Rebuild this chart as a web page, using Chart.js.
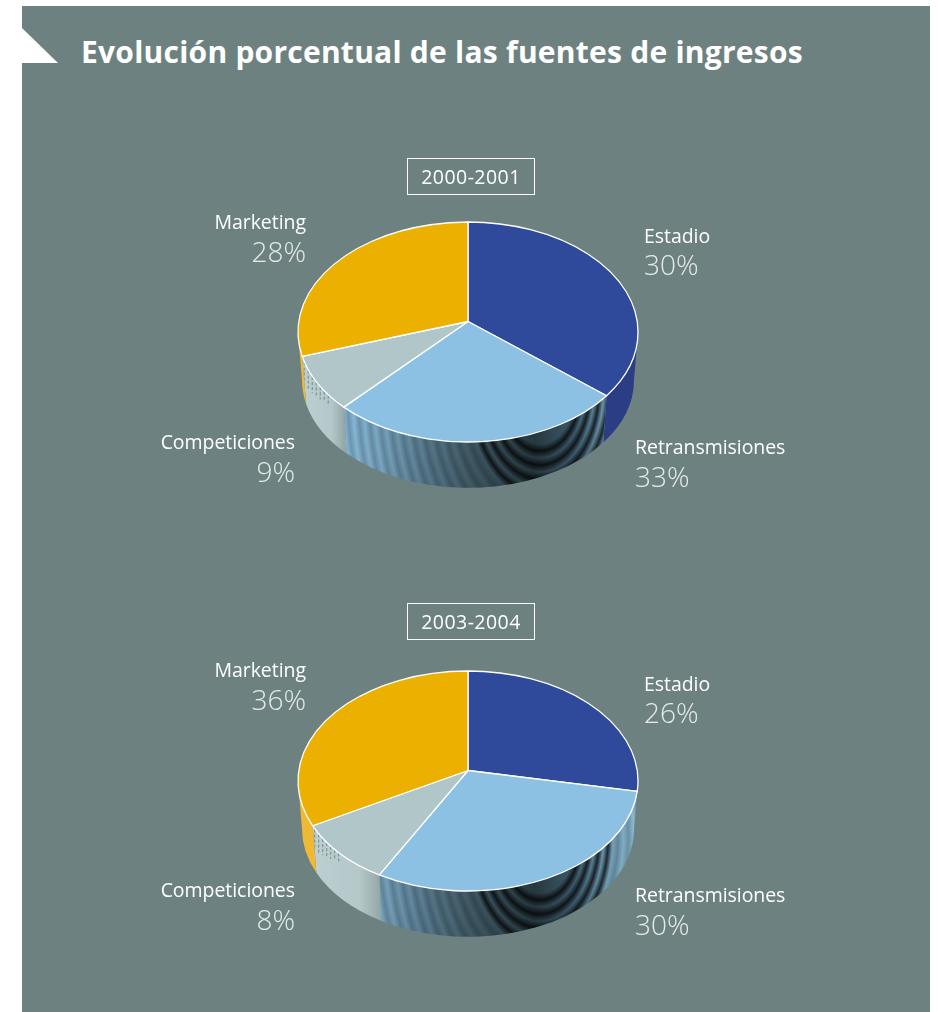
<!DOCTYPE html>
<html>
<head>
<meta charset="utf-8">
<title>Evolución porcentual de las fuentes de ingresos</title>
<script src="https://cdn.jsdelivr.net/npm/chart.js@4"></script>
<style>
  html, body { margin: 0; padding: 0; background: #fff; }
  #page { position: relative; width: 938px; height: 1012px; overflow: hidden; }
  #panel { position: absolute; left: 22px; top: 6px; width: 908px; height: 1006px; background: #6d8280; }
  #corner { position: absolute; left: 22px; top: 28px; width: 36px; height: 35px; background: #fff; clip-path: polygon(0 0, 100% 100%, 0 100%); }
  #title { position: absolute; left: 81px; top: 31px; font: 700 30px "Open Sans", sans-serif; letter-spacing: 0.24px; color: #fff; white-space: nowrap; }
  canvas { position: absolute; left: 22px; }
  .year { position: absolute; left: 407px; width: 126px; height: 35px; border: 1px solid #fff; text-align: center; font: 400 19.5px/35px "Open Sans", sans-serif; letter-spacing: 0.45px; color: #fff; }
  .name, .pct { position: absolute; white-space: nowrap; font-family: "Open Sans", sans-serif; }
  .name { font-size: 19.5px; font-weight: 400; color: #fff; line-height: 24px; letter-spacing: -0.05px; }
  .pct { font-size: 28px; font-weight: 300; color: #e4ebea; line-height: 34px; }
</style>
</head>
<body>
<div id="page">
  <div id="panel"></div>
  <div id="corner"></div>
  <div id="title">Evolución porcentual de las fuentes de ingresos</div>
  <canvas id="pie2001" width="892" height="400" style="top:131.5px"></canvas>
  <canvas id="pie2004" width="892" height="400" style="top:580.5px"></canvas>
</div>
<script>
var categories = ["Estadio", "Retransmisiones", "Competiciones", "Marketing"];
var seasons = ["2000-2001", "2003-2004"];

// percentages printed next to each slice
var printed2001 = [30, 33, 9, 28];
var printed2004 = [26, 30, 8, 36];

// slice sizes as they are drawn in the picture (the wedges do not follow the printed numbers)
var wedges2001 = [36, 26, 8, 30];
var wedges2004 = [28, 30, 9, 33];

var sliceColors = ["#2f4a9b", "#8cc1e3", "#b0c6c8", "#ebb000"];

var TILT = 110 / 170; // ellipse height / width
var DEPTH = 48;
var LOWER = 166 / 170; // lower rim is a bit smaller
var APEX = 10.5; // apex sits above the ellipse centre (perspective)

// true pie angle -> angle on the ellipse
function ellipseAngle(a) {
  return a - 0.0954 * Math.cos(a);
}

function wallPath(ctx, arc, a0, a1) {
  var r = arc.outerRadius;
  ctx.beginPath();
  ctx.ellipse(arc.x, arc.y, r, r * TILT, 0, a0, a1);
  ctx.ellipse(arc.x, arc.y + DEPTH, r * LOWER, r * TILT * 0.98, 0, a1, a0, true);
  ctx.closePath();
}

function retransWall(ctx, arc, a0, a1) {
  var cx = arc.x, cy = arc.y;
  var base = ctx.createLinearGradient(cx - 125, 0, cx + 165, 0);
  base.addColorStop(0, "#8abde0");
  base.addColorStop(0.13, "#79a6c2");
  base.addColorStop(0.3, "#55778a");
  base.addColorStop(0.43, "#425c68");
  base.addColorStop(0.66, "#26383f");
  base.addColorStop(0.8, "#3d5a6c");
  base.addColorStop(0.9, "#6d98b0");
  base.addColorStop(1, "#8ab8cf");
  wallPath(ctx, arc, a0, a1);
  ctx.fillStyle = base;
  ctx.fill();

  // moire rings of the original rendering, narrower than tall
  ctx.save();
  wallPath(ctx, arc, a0, a1);
  ctx.clip();
  var maxR = 320;
  ctx.save();
  ctx.translate(cx + 72, cy + 56);
  ctx.scale(0.65, 1);
  var rings = ctx.createRadialGradient(0, 0, 0, 0, 0, maxR);
  var d = 56;
  while (d < maxR - 16) {
    var step = d < 100 ? 14 : 16;
    var strength = d < 100 ? 0.75 : 0.2;
    rings.addColorStop(d / maxR, "rgba(0,0,0,0)");
    rings.addColorStop((d + step / 2) / maxR, "rgba(0,0,0," + strength + ")");
    rings.addColorStop((d + step) / maxR, "rgba(0,0,0,0)");
    d += step;
  }
  ctx.fillStyle = rings;
  ctx.fillRect(-maxR, -maxR, maxR * 2, maxR * 2);
  ctx.restore();

  // darker triangle at the left end of the wall
  var r = arc.outerRadius;
  var x0 = cx + r * Math.cos(a0), y0 = cy + r * TILT * Math.sin(a0);
  ctx.fillStyle = "rgba(60,90,110,0.4)";
  ctx.beginPath();
  ctx.moveTo(x0, y0);
  ctx.lineTo(x0 + 40, y0 + 20);
  ctx.lineTo(x0 + 4, y0 + 48);
  ctx.closePath();
  ctx.fill();
  ctx.restore();
}

function compWall(ctx, arc, a0, a1) {
  var r = arc.outerRadius;
  var xL = arc.x + r * Math.cos(a1), xR = arc.x + r * Math.cos(a0);
  var g = ctx.createLinearGradient(xL, 0, xR, 0);
  g.addColorStop(0, "#bcd0d1");
  g.addColorStop(0.7, "#b4c8c9");
  g.addColorStop(1, "#95aaa8");
  wallPath(ctx, arc, a0, a1);
  ctx.fillStyle = g;
  ctx.fill();

  // dashed moire near the top edge, left side
  ctx.save();
  wallPath(ctx, arc, a0, a1);
  ctx.clip();
  ctx.strokeStyle = "rgba(90,105,105,0.7)";
  ctx.lineWidth = 1;
  ctx.setLineDash([3, 2]);
  for (var x = xL + 2; x < xL + 28; x += 4) {
    var t = Math.acos((x - arc.x) / r);
    var y = arc.y + r * TILT * Math.sin(t);
    ctx.beginPath();
    ctx.moveTo(x, y + 1);
    ctx.lineTo(x, y + 22 - (x - xL) * 0.5);
    ctx.stroke();
  }
  ctx.restore();
}

var piePlugin = {
  id: "perspectivePie",
  beforeDatasetDraw: function (chart, args) {
    var ctx = chart.ctx;
    var arcs = chart.getDatasetMeta(args.index).data;
    var opts = chart.options.plugins.perspectivePie;

    ctx.save();
    // side wall, only the front half shows
    arcs.forEach(function (arc, i) {
      var a0 = Math.max(ellipseAngle(arc.startAngle), 0);
      var a1 = Math.min(ellipseAngle(arc.endAngle), Math.PI);
      if (a1 <= a0) return;
      if (i === 1) {
        retransWall(ctx, arc, a0, a1);
      } else if (i === 2) {
        compWall(ctx, arc, a0, a1);
      } else {
        wallPath(ctx, arc, a0, a1);
        ctx.fillStyle = i === 0 ? opts.stadiumWall : "#efb935";
        ctx.fill();
      }
    });

    // top face
    arcs.forEach(function (arc, i) {
      var r = arc.outerRadius;
      var apexY = arc.y - APEX;
      ctx.beginPath();
      ctx.moveTo(arc.x, apexY);
      ctx.ellipse(arc.x, arc.y, r, r * TILT, 0, ellipseAngle(arc.startAngle), ellipseAngle(arc.endAngle));
      ctx.closePath();
      ctx.fillStyle = sliceColors[i];
      ctx.fill();
      ctx.strokeStyle = "#fff";
      ctx.lineWidth = 1.3;
      ctx.lineJoin = "round";
      ctx.stroke();
    });
    ctx.restore();
    return false;
  }
};

function drawPie(canvasId, wedges, stadiumWall) {
  return new Chart(document.getElementById(canvasId), {
    type: "pie",
    data: {
      labels: categories,
      datasets: [{ data: wedges, backgroundColor: sliceColors, borderWidth: 0 }]
    },
    options: {
      responsive: false,
      animation: false,
      radius: 170,
      layout: { padding: 0 },
      plugins: {
        legend: { display: false },
        tooltip: { enabled: false },
        perspectivePie: { stadiumWall: stadiumWall }
      }
    },
    plugins: [piePlugin]
  });
}

drawPie("pie2001", wedges2001, "#2b3d84");
drawPie("pie2004", wedges2004, "#5a7ba5");

// texts
var page = document.getElementById("page");
function addText(cls, text, css) {
  var el = document.createElement("div");
  el.className = cls;
  el.textContent = text;
  Object.keys(css).forEach(function (k) { el.style[k] = css[k]; });
  page.appendChild(el);
}

function addLabels(printed, season, dy, yearTop) {
  addText("year", season, { top: yearTop + "px" });
  // Estadio, Retransmisiones: left aligned. Competiciones, Marketing: right aligned.
  addText("name", categories[0], { left: "644px", top: 224 + dy + "px" });
  addText("pct", printed[0] + "%", { left: "644px", top: 247 + dy + "px" });
  addText("name", categories[1], { left: "635px", top: 435 + dy + "px" });
  addText("pct", printed[1] + "%", { left: "635px", top: 459 + dy + "px" });
  addText("name", categories[2], { right: 938 - 295 + "px", top: 430 + dy + "px" });
  addText("pct", printed[2] + "%", { right: 938 - 295 + "px", top: 454 + dy + "px" });
  addText("name", categories[3], { right: 938 - 306 + "px", top: 210 + dy + "px" });
  addText("pct", printed[3] + "%", { right: 938 - 306 + "px", top: 234 + dy + "px" });
}

addLabels(printed2001, seasons[0], 0, 158);
addLabels(printed2004, seasons[1], 448, 603);
</script>
</body>
</html>
